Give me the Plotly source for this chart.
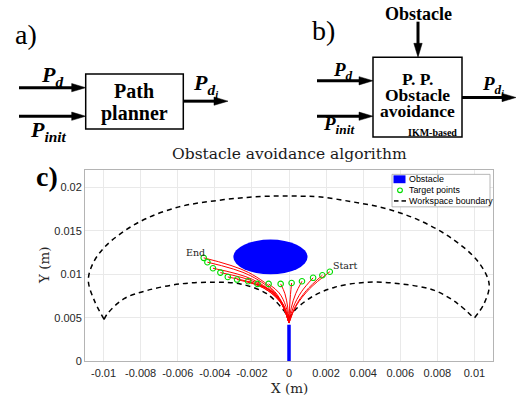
import math
import plotly.graph_objects as go

W, H = 518, 400

# ------------------------------------------------------------------ data
x_tick_vals = [-0.01, -0.008, -0.006, -0.004, -0.002, 0, 0.002, 0.004, 0.006, 0.008, 0.01]
x_tick_text = ["-0.01", "-0.008", "-0.006", "-0.004", "-0.002", "0",
               "0.002", "0.004", "0.006", "0.008", "0.01"]
y_tick_vals = [0, 0.005, 0.01, 0.015, 0.02]
y_tick_text = ["0", "0.005", "0.01", "0.015", "0.02"]
x_range = [-0.011, 0.011]
y_range = [0, 0.022]

# workspace boundary (outer arc, inner left arc, inner right arc)
outer_x = [-0.00997, -0.0105, -0.01082, -0.01059, -0.00997, -0.00889, -0.00764, -0.00585,
           -0.00406, -0.00227, -0.00066, 0.00060, 0.00157, 0.00336, 0.00515, 0.00694,
           0.00873, 0.01016, 0.01079, 0.01052, 0.00998]
outer_y = [0.00482, 0.0070, 0.00928, 0.01118, 0.01307, 0.01497, 0.01648, 0.01781,
           0.01845, 0.01886, 0.01902, 0.01900, 0.01894, 0.01837, 0.01761, 0.0163,
           0.0142, 0.01156, 0.0089, 0.00664, 0.00493]
inner_left_x = [-0.00997, -0.00978, -0.00889, -0.00764, -0.00585, -0.00406, -0.00263,
                -0.0012, -0.0003, 0.0]
inner_left_y = [0.00482, 0.0055, 0.0072, 0.00815, 0.0089, 0.00909, 0.0089,
                0.00777, 0.00588, 0.00493]
inner_right_x = [0.0, 0.00032, 0.00122, 0.00247, 0.00426, 0.00605, 0.00784, 0.00909, 0.00998]
inner_right_y = [0.00493, 0.00588, 0.00739, 0.00852, 0.00909, 0.0089, 0.00815, 0.00664, 0.00493]

# target points (End ... Start)
target_x = [-0.0046, -0.0044, -0.0041, -0.0037, -0.0033, -0.0028, -0.0022, -0.0017,
            -0.0011, -0.00045, 0.00014, 0.0007, 0.0013, 0.0018, 0.0022]
target_y = [0.0119, 0.0114, 0.0107, 0.0102, 0.0097, 0.0094, 0.0092, 0.0089,
            0.0089, 0.0089, 0.0090, 0.0092, 0.0096, 0.0099, 0.0103]

# planned paths: common origin + two waypoints
path_origin_x, path_origin_y = 0.0, 0.0044
path_a_x = [-0.00064, -0.00062, -0.00059, -0.00054, -0.00050, -0.00044, -0.00033, -0.00028,
            -0.00017, -0.00007, 0.00003, 0.00012, 0.00023, 0.00033, 0.00038]
path_a_y = [0.00768, 0.00749, 0.00728, 0.00709, 0.00690, 0.00673, 0.00658, 0.00641,
            0.00632, 0.00623, 0.00611, 0.00613, 0.00622, 0.00626, 0.00634]
path_b_x = [-0.00218, -0.00209, -0.00196, -0.00178, -0.00160, -0.00138, -0.00107, -0.00085,
            -0.00053, -0.00022, 0.00008, 0.00036, 0.00067, 0.00093, 0.00111]
path_b_y = [0.01021, 0.00986, 0.00941, 0.00906, 0.00870, 0.00843, 0.00821, 0.00795,
            0.00786, 0.00777, 0.00768, 0.00777, 0.00799, 0.00812, 0.00834]

# obstacle (circle) and base rod
obstacle_cx, obstacle_cy, obstacle_r = -0.001, 0.012, 0.002
base_x = [0.0, 0.0]
base_y = [0.0, 0.0042]

# ------------------------------------------------------------------ helpers
def px(x):
    return x / W


def py(y):
    return 1 - y / H


SERIF = "Liberation Serif"
MSERIF = "DejaVu Serif"
SANS = "Liberation Sans"

shapes = []
annotations = []


def line(x0, y0, x1, y1, width=3, color="black", dash=None):
    ln = dict(color=color, width=width)
    if dash:
        ln["dash"] = dash
    shapes.append(dict(type="line", xref="paper", yref="paper",
                       x0=px(x0), y0=py(y0), x1=px(x1), y1=py(y1), line=ln))


def arrow(x0, y0, x1, y1, hl=14, hw=4.2, width=3):
    dx, dy = x1 - x0, y1 - y0
    L = math.hypot(dx, dy)
    ux, uy = dx / L, dy / L
    bx, by = x1 - ux * hl, y1 - uy * hl
    line(x0, y0, bx + ux * 1, by + uy * 1, width=width)
    nx, ny = -uy, ux
    p1 = (bx + nx * hw, by + ny * hw)
    p2 = (bx - nx * hw, by - ny * hw)
    path = "M{},{} L{},{} L{},{} Z".format(px(x1), py(y1), px(p1[0]), py(p1[1]),
                                           px(p2[0]), py(p2[1]))
    shapes.append(dict(type="path", xref="paper", yref="paper", path=path,
                       fillcolor="black", line=dict(color="black", width=0.5)))


def rect(x0, y0, x1, y1, width=1.5, color="black", fill=None):
    d = dict(type="rect", xref="paper", yref="paper", x0=px(x0), y0=py(y1),
             x1=px(x1), y1=py(y0), line=dict(color=color, width=width))
    if fill:
        d["fillcolor"] = fill
    shapes.append(d)


def text(x, y, s, size, family=SERIF, xanchor="center", yanchor="middle", color="black",
         textangle=0):
    annotations.append(dict(xref="paper", yref="paper", x=px(x), y=py(y), text=s,
                            showarrow=False, xanchor=xanchor, yanchor=yanchor,
                            textangle=textangle,
                            font=dict(family=family, size=size, color=color)))


P_D = "<b><i>P</i></b><sub><b><i>d</i></b></sub>"
P_INIT = "<b><i>P</i></b><sub><b><i>init</i></b></sub>"
P_DI = "<b><i>P</i></b><sub><b><i>d</i></b><sub><b><i>i</i></b></sub></sub>"

# ------------------------------------------------------------------ panel a)
text(26, 35, "a)", 28)
rect(85.7, 75, 183.3, 131)
text(134, 92, "<b>Path</b>", 20)
text(134, 115, "<b>planner</b>", 20)
arrow(19, 89, 85.7, 89)
arrow(19, 118, 85.7, 118)
arrow(183.3, 102.7, 228, 102.7)
text(52, 77, P_D, 22)
text(48, 133, P_INIT, 22)
text(205, 86, P_DI, 22)

# ------------------------------------------------------------------ panel b)
text(323, 31, "b)", 28)
text(418, 14, "<b>Obstacle</b>", 18)
arrow(418, 22, 418, 58)
rect(373, 58, 462, 139)
text(417.5, 80, "<b>P. P.</b>", 17.5)
text(417.5, 96.5, "<b>Obstacle</b>", 17.5)
text(417.5, 113, "<b>avoidance</b>", 17.5)
text(459, 134.5, "<b>IKM-based</b>", 10, xanchor="right")
arrow(317, 82, 373, 82)
arrow(317, 118, 373, 118)
arrow(462, 99, 516, 99)
text(343, 72, P_D, 19)
text(339, 127, P_INIT, 19)
text(493, 87, P_DI, 19)

# ------------------------------------------------------------------ panel c) labels
text(47, 179, "<b>c)</b>", 28)
text(289, 156, "Obstacle avoidance algorithm", 15.5, family=MSERIF, color="#1a1a1a")
text(289, 394, "X (m)", 13.5, family=MSERIF, color="#262626")
text(44, 269, "Y (m)", 13.5, family=MSERIF, color="#262626", textangle=-90)

# ------------------------------------------------------------------ figure
fig = go.Figure()

# workspace boundary
bx, by = [], []
for sx, sy in ((outer_x, outer_y), (inner_left_x, inner_left_y), (inner_right_x, inner_right_y)):
    bx += list(sx) + [None]
    by += list(sy) + [None]
fig.add_trace(go.Scatter(x=bx, y=by, mode="lines", name="Workspace boundary",
                         line=dict(color="black", width=1.5, dash="5px,4px", shape="spline"),
                         hoverinfo="skip", showlegend=False))

# planned paths
rx, ry = [], []
for i in range(len(target_x)):
    rx += [path_origin_x, path_a_x[i], path_b_x[i], target_x[i], None]
    ry += [path_origin_y, path_a_y[i], path_b_y[i], target_y[i], None]
fig.add_trace(go.Scatter(x=rx, y=ry, mode="lines", name="Paths",
                         line=dict(color="#ff0000", width=1, shape="spline"),
                         showlegend=False))

# base rod
fig.add_trace(go.Scatter(x=base_x, y=base_y, mode="lines", name="Base",
                         line=dict(color="#0000ff", width=3.5), showlegend=False))

# target points
fig.add_trace(go.Scatter(x=target_x, y=target_y, mode="markers", name="Target points",
                         marker=dict(symbol="circle-open", size=5.5, color="#00dd00",
                                     line=dict(width=1.1, color="#00dd00")),
                         showlegend=False))

# obstacle circle
shapes.append(dict(type="circle", xref="x", yref="y",
                   x0=obstacle_cx - obstacle_r, x1=obstacle_cx + obstacle_r,
                   y0=obstacle_cy - obstacle_r, y1=obstacle_cy + obstacle_r,
                   fillcolor="#0000ff", line=dict(width=0)))

# End / Start labels tied to the first and last target
annotations.append(dict(xref="x", yref="y", x=target_x[0], y=target_y[0], text="End",
                        showarrow=False, xanchor="right", yanchor="bottom",
                        xshift=3, yshift=-2, font=dict(family=MSERIF, size=9.5, color="#222")))
annotations.append(dict(xref="x", yref="y", x=target_x[-1], y=target_y[-1], text="Start",
                        showarrow=False, xanchor="left", yanchor="bottom",
                        xshift=1, yshift=-1, font=dict(family=MSERIF, size=9.5, color="#222")))

# legend (drawn in MATLAB style)
rect(392, 177, 490, 210, width=0.8, color="#a6a6a6", fill="white")
rect(393.5, 178, 405.5, 186, width=0, color="#0000ff", fill="#0000ff")
shapes.append(dict(type="circle", xref="paper", yref="paper",
                   x0=px(397.6), x1=px(402.4), y0=py(195.6), y1=py(190.8),
                   line=dict(color="#00dd00", width=1.1)))
line(394, 204, 398.5, 204, width=1.5)
line(401.5, 204, 406, 204, width=1.5)
text(407, 182, "Obstacle", 8.9, family=SANS, xanchor="left")
text(407, 193.2, "Target points", 8.9, family=SANS, xanchor="left")
text(407, 204.2, "Workspace boundary", 8.9, family=SANS, xanchor="left")

axis_common = dict(showgrid=True, gridcolor="#e9e9e9", gridwidth=1, zeroline=False,
                   showline=True, linecolor="#b4b4b4", linewidth=1, mirror=True,
                   ticks="", tickfont=dict(family=SANS, size=11, color="#262626"))

fig.update_layout(
    width=W, height=H, margin=dict(l=0, r=0, t=0, b=0),
    paper_bgcolor="white", plot_bgcolor="white",
    showlegend=False,
    xaxis=dict(domain=[85 / W, 493 / W], range=x_range, tickvals=x_tick_vals,
               ticktext=x_tick_text, ticklabelstandoff=2, **axis_common),
    yaxis=dict(domain=[1 - 366.7 / H, 1 - 172.7 / H], range=y_range, tickvals=y_tick_vals,
               ticktext=y_tick_text, **axis_common),
    shapes=shapes, annotations=annotations,
)

fig.write_html("out.html")
